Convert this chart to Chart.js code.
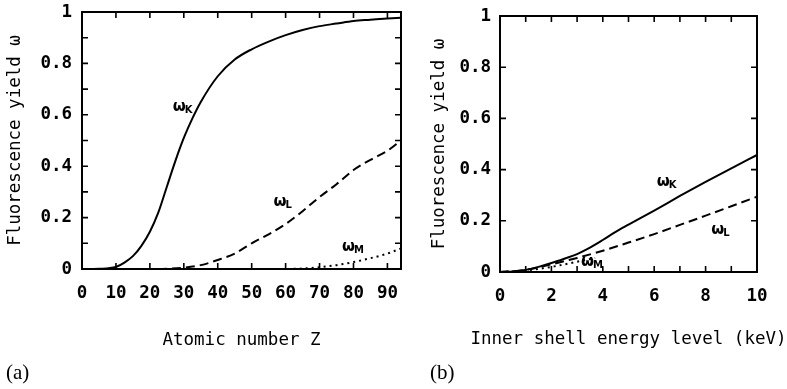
<!DOCTYPE html>
<html>
<head>
<meta charset="utf-8">
<script src="https://cdn.jsdelivr.net/npm/chart.js@4.4.1/dist/chart.umd.min.js"></script>
<style>
  body { margin: 0; background: #fff; }
  #wrap { position: relative; width: 787px; height: 389px; background: #fff; overflow: hidden; }
  canvas { position: absolute; top: 0; }
  .tag { position: absolute; top: 362px; font-family: "Liberation Serif", "DejaVu Serif", serif; font-size: 21px; line-height: 1; color: #000; }
</style>
</head>
<body>
<div id="wrap">
  <canvas id="chartA" width="410" height="389" style="left:0"></canvas>
  <canvas id="chartB" width="377" height="389" style="left:410px"></canvas>
  <div class="tag" style="left:6px">(a)</div>
  <div class="tag" style="left:430px">(b)</div>
</div>
<script>
// panel (a): fluorescence yield against atomic number Z
const aZK = [0, 5, 10, 12.5, 15, 17.5, 20, 22.5, 25, 27.5, 30, 32.5, 35, 40, 45, 50, 55, 60, 65, 70, 75, 80, 85, 90, 94];
const aYieldK = [0, 0.001, 0.008, 0.025, 0.05, 0.09, 0.145, 0.22, 0.32, 0.42, 0.51, 0.585, 0.65, 0.75, 0.815, 0.855, 0.885, 0.91, 0.93, 0.945, 0.955, 0.965, 0.97, 0.975, 0.978];
const aZL = [10, 20, 25, 30, 35, 40, 45, 50, 55, 60, 65, 70, 75, 80, 85, 90, 94];
const aYieldL = [0, 0, 0.001, 0.005, 0.015, 0.035, 0.06, 0.1, 0.135, 0.175, 0.225, 0.28, 0.33, 0.385, 0.425, 0.46, 0.5];
const aZM = [50, 60, 65, 70, 75, 80, 85, 90, 94];
const aYieldM = [0, 0, 0.002, 0.007, 0.015, 0.027, 0.042, 0.06, 0.08];

const aXTicks = [0, 10, 20, 30, 40, 50, 60, 70, 80, 90];
const aXLabeled = [0, 10, 20, 30, 40, 50, 60, 70, 80, 90];
const aYTicks = [0, 0.1, 0.2, 0.3, 0.4, 0.5, 0.6, 0.7, 0.8, 0.9, 1];
const aYLabeled = [0, 0.2, 0.4, 0.6, 0.8, 1];

// panel (b): fluorescence yield against inner shell energy (keV)
const bEK = [0, 0.5, 1, 1.5, 2, 2.5, 3, 3.5, 4, 4.5, 5, 6, 7, 8, 9, 10];
const bYieldK = [0, 0.002, 0.008, 0.02, 0.035, 0.052, 0.07, 0.095, 0.125, 0.157, 0.185, 0.24, 0.297, 0.352, 0.405, 0.457];
const bEL = [0, 1, 2, 3, 4, 5, 6, 7, 8, 9, 10];
const bYieldL = [0, 0.008, 0.03, 0.055, 0.083, 0.115, 0.148, 0.184, 0.22, 0.257, 0.294];
const bEM = [0, 1, 2, 3, 3.7];
const bYieldM = [0, 0.006, 0.02, 0.04, 0.055];

const bXTicks = [0, 1, 2, 3, 4, 5, 6, 7, 8, 9, 10];
const bXLabeled = [0, 2, 4, 6, 8, 10];
const bYTicks = [0, 0.2, 0.4, 0.6, 0.8, 1];
const bYLabeled = [0, 0.2, 0.4, 0.6, 0.8, 1];

// curve annotations (shell letter, data position)
const shellNames = ['K', 'L', 'M'];
const aLabelX = [29.8, 59.3, 80];
const aLabelY = [0.63, 0.26, 0.085];
const bLabelX = [6.5, 8.6, 3.6];
const bLabelY = [0.35, 0.165, 0.04];

const tickFont = { family: '"DejaVu Sans Mono", monospace', size: 17.5, weight: 'bold' };
const titleFont = { family: '"DejaVu Sans Mono", monospace', size: 17.5, weight: 'normal' };

function fmtY(v) {
  return (v === 0 || v === 1) ? String(v) : v.toFixed(1);
}

// box frame with inward tick marks on all four sides
const frameTicks = {
  id: 'frameTicks',
  afterDatasetsDraw(chart) {
    const { ctx, chartArea: a, scales: { x, y } } = chart;
    const len = 6;
    ctx.save();
    ctx.strokeStyle = '#000';
    ctx.lineWidth = 2;
    ctx.strokeRect(a.left, a.top, a.right - a.left, a.bottom - a.top);
    ctx.lineWidth = 1.6;
    ctx.beginPath();
    x.ticks.forEach(t => {
      const px = x.getPixelForValue(t.value);
      if (px <= a.left + 1 || px >= a.right - 1) return;
      ctx.moveTo(px, a.bottom); ctx.lineTo(px, a.bottom - len);
      ctx.moveTo(px, a.top); ctx.lineTo(px, a.top + len);
    });
    y.ticks.forEach(t => {
      const py = y.getPixelForValue(t.value);
      if (py <= a.top + 1 || py >= a.bottom - 1) return;
      ctx.moveTo(a.left, py); ctx.lineTo(a.left + len, py);
      ctx.moveTo(a.right, py); ctx.lineTo(a.right - len, py);
    });
    ctx.stroke();
    ctx.restore();
  }
};

// omega labels next to the curves
const curveLabels = {
  id: 'curveLabels',
  afterDatasetsDraw(chart, args, opts) {
    const { ctx, scales: { x, y } } = chart;
    ctx.save();
    ctx.fillStyle = '#000';
    ctx.textBaseline = 'alphabetic';
    opts.xs.forEach((lx, i) => {
      const px = x.getPixelForValue(lx), py = y.getPixelForValue(opts.ys[i]);
      const sub = shellNames[i];
      ctx.font = 'bold 15px "DejaVu Sans"';
      const w = ctx.measureText('ω').width;
      ctx.font = 'bold 10px "DejaVu Sans"';
      const ws = ctx.measureText(sub).width;
      const left = px - (w + ws) / 2;
      ctx.font = 'bold 15px "DejaVu Sans"';
      ctx.fillText('ω', left, py + 4);
      ctx.font = 'bold 10px "DejaVu Sans"';
      ctx.fillText(sub, left + w - 1, py + 6);
    });
    ctx.restore();
  }
};

// x axis title, drawn without the scale's width limit
const xTitle = {
  id: 'xTitle',
  afterDraw(chart, args, opts) {
    const { ctx, chartArea: a } = chart;
    ctx.save();
    ctx.fillStyle = '#000';
    ctx.font = '17.5px "DejaVu Sans Mono", monospace';
    ctx.textAlign = 'center';
    ctx.textBaseline = 'middle';
    ctx.fillText(opts.text, (a.left + a.right) / 2, a.bottom + opts.gap);
    ctx.restore();
  }
};

function series(xs, ys, dash) {
  return {
    data: xs.map((v, i) => ({ x: v, y: ys[i] })),
    borderColor: '#000',
    borderWidth: 2,
    borderDash: dash,
    pointRadius: 0,
    fill: false,
    cubicInterpolationMode: 'monotone'
  };
}

function makePanel(id, p) {
  const ctx = document.getElementById(id).getContext('2d');
  return new Chart(ctx, {
    type: 'line',
    data: { datasets: p.datasets },
    options: {
      responsive: false,
      animation: false,
      layout: { padding: { top: p.top, right: p.right, left: 0, bottom: 0 } },
      plugins: {
        legend: { display: false },
        tooltip: { enabled: false },
        curveLabels: { xs: p.labelX, ys: p.labelY },
        xTitle: { text: p.xTitle, gap: p.xTitleGap }
      },
      scales: {
        x: {
          type: 'linear', min: 0, max: p.xMax,
          afterBuildTicks: s => { s.ticks = p.xTicks.map(v => ({ value: v })); },
          afterFit: s => { s.height = p.xAxisHeight; s.paddingLeft = 0; s.paddingRight = 0; },
          grid: { display: false, drawTicks: false },
          border: { display: false },
          ticks: { padding: 14, font: tickFont, color: '#000', maxRotation: 0, autoSkip: false,
            callback: v => p.xLabeled.includes(v) ? String(v) : '' }
        },
        y: {
          type: 'linear', min: 0, max: 1,
          afterBuildTicks: s => { s.ticks = p.yTicks.map(v => ({ value: v })); },
          afterFit: s => { s.width = p.yAxisWidth; s.paddingTop = 0; s.paddingBottom = 0; },
          grid: { display: false, drawTicks: false },
          border: { display: false },
          ticks: { padding: p.yTickPad, font: tickFont, color: '#000', autoSkip: false,
            callback: v => p.yLabeled.includes(v) ? fmtY(v) : '' },
          title: { display: true, text: 'Fluorescence yield ω', font: titleFont, color: '#000', padding: { top: p.yTitlePad, bottom: 0 } }
        }
      }
    },
    plugins: [frameTicks, curveLabels, xTitle]
  });
}

makePanel('chartA', {
  datasets: [
    series(aZK, aYieldK, []),
    series(aZL, aYieldL, [9, 5]),
    series(aZM, aYieldM, [2, 4])
  ],
  xMax: 94, xTicks: aXTicks, xLabeled: aXLabeled, yTicks: aYTicks, yLabeled: aYLabeled,
  top: 12, right: 9, xAxisHeight: 120, yAxisWidth: 82, yTickPad: 10,
  xTitle: 'Atomic number Z', xTitleGap: 71, yTitlePad: 5,
  labelX: aLabelX, labelY: aLabelY
});

makePanel('chartB', {
  datasets: [
    series(bEK, bYieldK, []),
    series(bEL, bYieldL, [9, 5]),
    series(bEM, bYieldM, [2, 4])
  ],
  xMax: 10, xTicks: bXTicks, xLabeled: bXLabeled, yTicks: bYTicks, yLabeled: bYLabeled,
  top: 16, right: 30, xAxisHeight: 117, yAxisWidth: 90, yTickPad: 9,
  xTitle: 'Inner shell energy level (keV)', xTitleGap: 67, yTitlePad: 19,
  labelX: bLabelX, labelY: bLabelY
});
</script>
</body>
</html>
